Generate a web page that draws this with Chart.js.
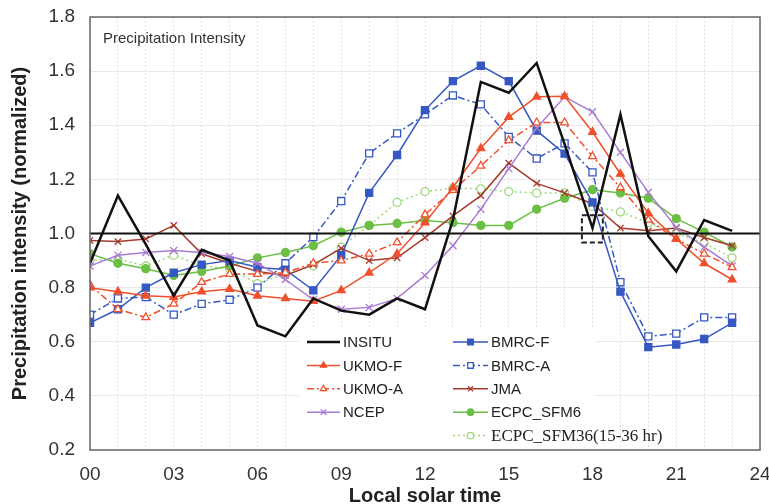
<!DOCTYPE html>
<html>
<head>
<meta charset="utf-8">
<title>Precipitation Intensity</title>
<script src="https://cdn.jsdelivr.net/npm/chart.js@4.4.1/dist/chart.umd.min.js"></script>
<style>
  html, body { margin: 0; padding: 0; background: #fff; overflow: hidden; }
  canvas { display: block; }
</style>
</head>
<body>
<canvas id="chart" width="769" height="504"></canvas>
<script>
// local solar time (hours)
const hours = [0, 1, 2, 3, 4, 5, 6, 7, 8, 9, 10, 11, 12, 13, 14, 15, 16, 17, 18, 19, 20, 21, 22, 23];
const xTickLabels = ['00', '03', '06', '09', '12', '15', '18', '21', '24'];
const yMin = 0.2, yMax = 1.8, yStep = 0.2;
const refLevel = 1.0;
// dashed box near 18h (axis units)
const boxHours = [17.62, 18.37];
const boxLevels = [0.967, 1.067];

const insitu  = [0.89, 1.14, 0.96, 0.77, 0.94, 0.90, 0.66, 0.62, 0.76, 0.715, 0.70, 0.76, 0.72, 1.05, 1.56, 1.52, 1.63, 1.33, 1.02, 1.44, 0.99, 0.86, 1.05, 1.01];
const ukmoF   = [0.80, 0.785, 0.77, 0.765, 0.785, 0.795, 0.77, 0.76, 0.75, 0.79, 0.855, 0.925, 1.04, 1.17, 1.315, 1.43, 1.505, 1.507, 1.375, 1.22, 1.075, 0.98, 0.89, 0.83];
const ukmoA   = [0.81, 0.72, 0.69, 0.74, 0.82, 0.85, 0.85, 0.855, 0.89, 0.90, 0.925, 0.967, 1.07, 1.16, 1.25, 1.344, 1.41, 1.41, 1.285, 1.17, 1.05, 0.98, 0.925, 0.875];
const ncep    = [0.88, 0.92, 0.93, 0.937, 0.93, 0.915, 0.89, 0.83, 0.755, 0.72, 0.727, 0.76, 0.845, 0.955, 1.09, 1.24, 1.39, 1.505, 1.45, 1.30, 1.152, 1.022, 0.95, 0.88];
const bmrcF   = [0.67, 0.72, 0.80, 0.855, 0.885, 0.90, 0.875, 0.866, 0.79, 0.92, 1.15, 1.29, 1.456, 1.563, 1.62, 1.563, 1.38, 1.295, 1.115, 0.785, 0.58, 0.59, 0.61, 0.67];
const bmrcA   = [0.70, 0.76, 0.765, 0.70, 0.74, 0.755, 0.80, 0.89, 0.987, 1.12, 1.296, 1.37, 1.44, 1.51, 1.477, 1.357, 1.277, 1.333, 1.226, 0.82, 0.62, 0.63, 0.69, 0.69];
const jma     = [0.974, 0.97, 0.98, 1.03, 0.925, 0.89, 0.86, 0.845, 0.885, 0.945, 0.90, 0.91, 0.985, 1.065, 1.14, 1.26, 1.185, 1.15, 1.11, 1.02, 1.01, 1.02, 0.985, 0.955];
const sfm6    = [0.925, 0.89, 0.87, 0.845, 0.86, 0.88, 0.91, 0.93, 0.955, 1.005, 1.03, 1.037, 1.048, 1.04, 1.03, 1.03, 1.09, 1.13, 1.162, 1.15, 1.13, 1.055, 1.005, 0.95];
const sfm36   = [0.90, 0.905, 0.88, 0.92, 0.88, 0.87, 0.815, 0.85, 0.88, 0.95, 1.03, 1.115, 1.155, 1.168, 1.165, 1.155, 1.15, 1.15, 1.10, 1.08, 1.04, 1.0, 0.965, 0.91];

const SANS = '"Liberation Sans", Arial, sans-serif';
const SERIF = '"Liberation Serif", "Times New Roman", serif';

const BLUE = '#3558c2';
const RED = '#f0502d';
const BROWN = '#a53b2b';
const PURPLE = '#a97bd2';
const GREEN = '#6cbf45';
const LGREEN = '#9fd77c';
const DASHDOT = [7, 3, 2, 3];

const pts = vals => hours.map((h, i) => ({ x: h, y: vals[i] }));

function series(label, vals, color, extra) {
  return Object.assign({
    label: label,
    data: pts(vals),
    borderColor: color,
    backgroundColor: color,
    borderWidth: 1.5,
    pointRadius: 4,
    pointBorderWidth: 1.3,
    pointBorderColor: color,
    pointBackgroundColor: color,
    tension: 0,
    fill: false
  }, extra || {});
}

// order here = legend order (column by column); dataset 0 is drawn on top
const datasets = [
  series('INSITU', insitu, '#111', { borderWidth: 2.5, pointRadius: 0 }),
  series('UKMO-F', ukmoF, RED, { pointStyle: 'triangle', pointRadius: 4.5 }),
  series('UKMO-A', ukmoA, RED, { pointStyle: 'triangle', pointRadius: 4.5, borderDash: DASHDOT, pointBackgroundColor: '#fff' }),
  series('NCEP', ncep, PURPLE, { pointStyle: 'crossRot', pointRadius: 5 }),
  series('BMRC-F', bmrcF, BLUE, { pointStyle: 'rect', pointRadius: 5 }),
  series('BMRC-A', bmrcA, BLUE, { pointStyle: 'rect', pointRadius: 5, borderDash: DASHDOT, pointBackgroundColor: '#fff' }),
  series('JMA', jma, BROWN, { pointStyle: 'crossRot', pointRadius: 4.5 }),
  series('ECPC_SFM6', sfm6, GREEN, { pointStyle: 'circle', pointRadius: 4 }),
  series('ECPC_SFM36(15-36 hr)', sfm36, LGREEN, { pointStyle: 'circle', pointRadius: 4, borderDash: [2, 3], pointBackgroundColor: '#fff' })
];

// reference line, dashed box, frame, panel label, legend
const overlay = {
  id: 'overlay',
  afterDatasetsDraw(chart) {
    const { ctx, chartArea: a, scales: { x, y } } = chart;
    ctx.save();

    // line at 1.0
    const yr = y.getPixelForValue(refLevel);
    ctx.strokeStyle = '#111';
    ctx.lineWidth = 2;
    ctx.beginPath();
    ctx.moveTo(a.left, yr);
    ctx.lineTo(a.right, yr);
    ctx.stroke();

    // dashed box
    const bx0 = x.getPixelForValue(boxHours[0]), bx1 = x.getPixelForValue(boxHours[1]);
    const by0 = y.getPixelForValue(boxLevels[1]), by1 = y.getPixelForValue(boxLevels[0]);
    ctx.setLineDash([5, 3]);
    ctx.lineWidth = 2;
    ctx.strokeStyle = '#222';
    ctx.strokeRect(bx0, by0, bx1 - bx0, by1 - by0);
    ctx.setLineDash([]);

    // plot frame
    ctx.strokeStyle = '#666';
    ctx.lineWidth = 1.5;
    ctx.strokeRect(a.left, a.top, a.right - a.left, a.bottom - a.top);

    // panel label
    ctx.fillStyle = '#333';
    ctx.font = '15px ' + SANS;
    ctx.textBaseline = 'middle';
    ctx.textAlign = 'left';
    ctx.fillText('Precipitation Intensity', a.left + 13, a.top + 22);

    // legend (two columns, inside the plot)
    ctx.fillStyle = '#fff';
    ctx.fillRect(298, 328, 298, 119);
    const cols = [{ x: 307, len: 33, n: 4 }, { x: 453, len: 35, n: 5 }];
    const rowY = 342, rowH = 23.4;
    let k = 0;
    cols.forEach(c => {
      for (let r = 0; r < c.n; r++, k++) {
        const ds = chart.data.datasets[k];
        const yy = rowY + r * rowH;
        ctx.strokeStyle = ds.borderColor;
        ctx.lineWidth = ds.borderWidth;
        ctx.setLineDash(ds.borderDash || []);
        ctx.beginPath();
        ctx.moveTo(c.x, yy);
        ctx.lineTo(c.x + c.len, yy);
        ctx.stroke();
        ctx.setLineDash([]);
        if (ds.pointRadius > 0) {
          ctx.fillStyle = ds.pointBackgroundColor;
          ctx.strokeStyle = ds.pointBorderColor;
          ctx.lineWidth = ds.pointBorderWidth;
          Chart.helpers.drawPoint(ctx, {
            pointStyle: ds.pointStyle, radius: ds.pointRadius * 0.8,
            borderWidth: ds.pointBorderWidth, rotation: 0
          }, c.x + c.len / 2, yy);
        }
        const serif = ds.label.indexOf('(') >= 0;
        ctx.font = serif ? '17px ' + SERIF : '15px ' + SANS;
        ctx.fillStyle = '#222';
        ctx.textAlign = 'left';
        ctx.textBaseline = 'middle';
        ctx.fillText(ds.label, c.x + c.len + 3, yy + 1);
      }
    });
    ctx.restore();
  }
};

new Chart(document.getElementById('chart'), {
  type: 'line',
  data: { datasets: datasets },
  plugins: [overlay],
  options: {
    responsive: false,
    animation: false,
    layout: { padding: { top: 17, right: 9, left: 0, bottom: 0 } },
    plugins: {
      legend: { display: false },
      tooltip: { enabled: false }
    },
    scales: {
      x: {
        type: 'linear',
        min: 0,
        max: 24,
        afterBuildTicks: s => { s.ticks = Array.from({ length: 25 }, (_, i) => ({ value: i })); },
        afterFit: s => { s.height = 54; s.paddingLeft = 0; s.paddingRight = 0; },
        ticks: {
          autoSkip: false,
          maxRotation: 0,
          padding: 13,
          color: '#333',
          font: { family: SANS, size: 19 },
          callback: v => (v % 3 === 0 ? xTickLabels[v / 3] : '')
        },
        grid: { color: '#e2e2e2', lineWidth: 1, drawTicks: false },
        border: { display: false, dash: [2, 2] },
        title: {
          display: true,
          text: 'Local solar time',
          color: '#222',
          font: { family: SANS, size: 20, weight: 'bold', lineHeight: 1 },
          padding: { top: 0, bottom: -2 }
        }
      },
      y: {
        min: yMin,
        max: yMax,
        afterFit: s => { s.width = 90; s.paddingTop = 0; s.paddingBottom = 0; },
        ticks: {
          stepSize: yStep,
          padding: 15,
          color: '#333',
          font: { family: SANS, size: 19 },
          callback: v => v.toFixed(1)
        },
        grid: { color: '#e8e8e8', lineWidth: 1, drawTicks: false },
        border: { display: false },
        title: {
          display: true,
          text: 'Precipitation intensity (normalized)',
          color: '#222',
          font: { family: SANS, size: 20, weight: 'bold', lineHeight: 1.2 },
          padding: { top: 8, bottom: 0 }
        }
      }
    }
  }
});
</script>
</body>
</html>
